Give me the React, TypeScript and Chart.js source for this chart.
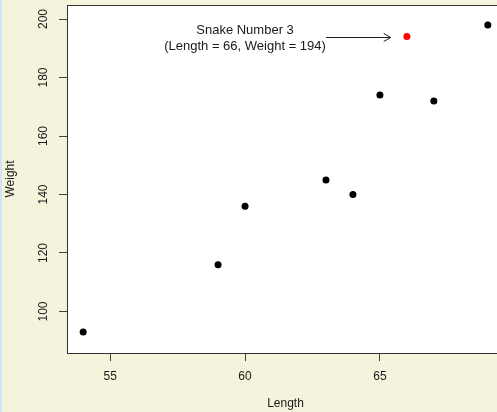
import React, { useEffect, useRef } from "react";
import { Chart, registerables } from "chart.js";

Chart.register(...registerables);

// ---- data ----
const lengths = [54, 59, 60, 63, 64, 65, 66, 67, 69];
const weights = [93, 116, 136, 145, 140, 174, 194, 172, 198];
const highlightLength = 66;
const xTicks = [55, 60, 65];
const yTicks = [100, 120, 140, 160, 180, 200];
const xRange = [53.4, 69.6];
const yRange = [85.8, 204.8];
const xTitle = "Length";
const yTitle = "Weight";
const noteLines = ["Snake Number 3", "(Length = 66, Weight = 194)"];
const noteAt = [60, 194];
const arrowFrom = [63, 194];
const arrowTo = [65.4, 194];

const FONT = "'Liberation Sans', Arial, Helvetica, sans-serif";
const INK = "#1a1a1a";

export default function App() {
  const ref = useRef<HTMLCanvasElement | null>(null);

  useEffect(() => {
    document.body.style.margin = "0";
    const canvas = ref.current;
    if (!canvas) return;

    const plotBg = {
      id: "plotBg",
      beforeDraw(chart: any) {
        const { ctx, chartArea: a } = chart;
        ctx.save();
        ctx.fillStyle = "#ffffff";
        ctx.fillRect(a.left, a.top, a.right - a.left, a.bottom - a.top);
        ctx.restore();
      },
      afterDraw(chart: any) {
        const { ctx, chartArea: a, scales } = chart;
        ctx.save();
        ctx.strokeStyle = "#333";
        ctx.lineWidth = 1;
        ctx.beginPath();
        ctx.moveTo(a.left, a.top + 0.5);
        ctx.lineTo(a.right, a.top + 0.5);
        ctx.stroke();

        const xs = scales.x;
        const ys = scales.y;
        // annotation text
        ctx.fillStyle = INK;
        ctx.font = `13px ${FONT}`;
        ctx.textAlign = "center";
        ctx.textBaseline = "middle";
        const tx = xs.getPixelForValue(noteAt[0]);
        const ty = ys.getPixelForValue(noteAt[1]);
        ctx.fillText(noteLines[0], tx, ty - 6.5);
        ctx.fillText(noteLines[1], tx, ty + 10);

        // arrow
        const x0 = xs.getPixelForValue(arrowFrom[0]);
        const y0 = Math.round(ys.getPixelForValue(arrowFrom[1])) + 0.5;
        const x1 = xs.getPixelForValue(arrowTo[0]);
        const y1 = y0;
        ctx.strokeStyle = INK;
        ctx.lineWidth = 1;
        ctx.beginPath();
        ctx.moveTo(x0, y0);
        ctx.lineTo(x1, y1);
        ctx.moveTo(x1 - 7, y1 - 4);
        ctx.lineTo(x1, y1);
        ctx.lineTo(x1 - 7, y1 + 4);
        ctx.stroke();
        ctx.restore();
      },
    };

    const points = lengths.map((l, i) => ({ x: l, y: weights[i] }));
    const colors = lengths.map((l) => (l === highlightLength ? "#ff0000" : "#000000"));

    const chart = new Chart(canvas, {
      type: "scatter",
      data: {
        datasets: [
          {
            data: points,
            pointRadius: 3.5,
            pointHoverRadius: 3.5,
            pointBackgroundColor: colors,
            pointBorderColor: colors,
            pointBorderWidth: 0,
          },
        ],
      },
      options: {
        animation: false,
        responsive: false,
        devicePixelRatio: 1,
        layout: { padding: { top: 5, right: 6, left: 0, bottom: 0 } },
        plugins: { legend: { display: false }, tooltip: { enabled: false } },
        scales: {
          x: {
            type: "linear",
            position: "bottom",
            min: xRange[0],
            max: xRange[1],
            afterBuildTicks: (s: any) => {
              s.ticks = xTicks.map((v) => ({ value: v }));
            },
            afterFit: (s: any) => {
              s.height = 59;
              s.paddingLeft = 0;
              s.paddingRight = 0;
            },
            grid: {
              display: true,
              drawOnChartArea: false,
              drawTicks: true,
              tickLength: 8,
              color: "#444",
              lineWidth: 1,
            },
            border: { display: true, color: "#333", width: 1 },
            ticks: {
              color: INK,
              font: { size: 12, family: FONT },
              padding: 8,
              maxRotation: 0,
              minRotation: 0,
            },
            title: {
              display: true,
              text: xTitle,
              color: INK,
              font: { size: 12, family: FONT },
              padding: { top: 0, bottom: 1.5 },
            },
          },
          y: {
            type: "linear",
            position: "left",
            min: yRange[0],
            max: yRange[1],
            afterBuildTicks: (s: any) => {
              s.ticks = yTicks.map((v) => ({ value: v }));
            },
            afterFit: (s: any) => {
              s.width = 67;
              s.paddingTop = 0;
              s.paddingBottom = 0;
            },
            grid: {
              display: true,
              drawOnChartArea: false,
              drawTicks: true,
              tickLength: 8,
              color: "#444",
              lineWidth: 1,
            },
            border: { display: true, color: "#333", width: 1 },
            ticks: {
              color: INK,
              font: { size: 12, family: FONT },
              padding: 5,
              minRotation: 90,
              maxRotation: 90,
              crossAlign: "center",
            },
            title: {
              display: true,
              text: yTitle,
              color: INK,
              font: { size: 12, family: FONT },
              padding: { top: 3, bottom: 0 },
            },
          },
        },
      },
      plugins: [plotBg],
    });

    return () => chart.destroy();
  }, []);

  return (
    <div
      style={{
        position: "absolute",
        left: 0,
        top: 0,
        width: 497,
        height: 412,
        overflow: "hidden",
        background: "#f4f4dc",
      }}
    >
      <canvas ref={ref} width={510} height={412} style={{ display: "block", width: 510, height: 412 }} />
      <div
        style={{
          position: "absolute",
          left: 0,
          top: 0,
          width: 2,
          height: 412,
          background: "#d4e4f4",
        }}
      />
    </div>
  );
}
